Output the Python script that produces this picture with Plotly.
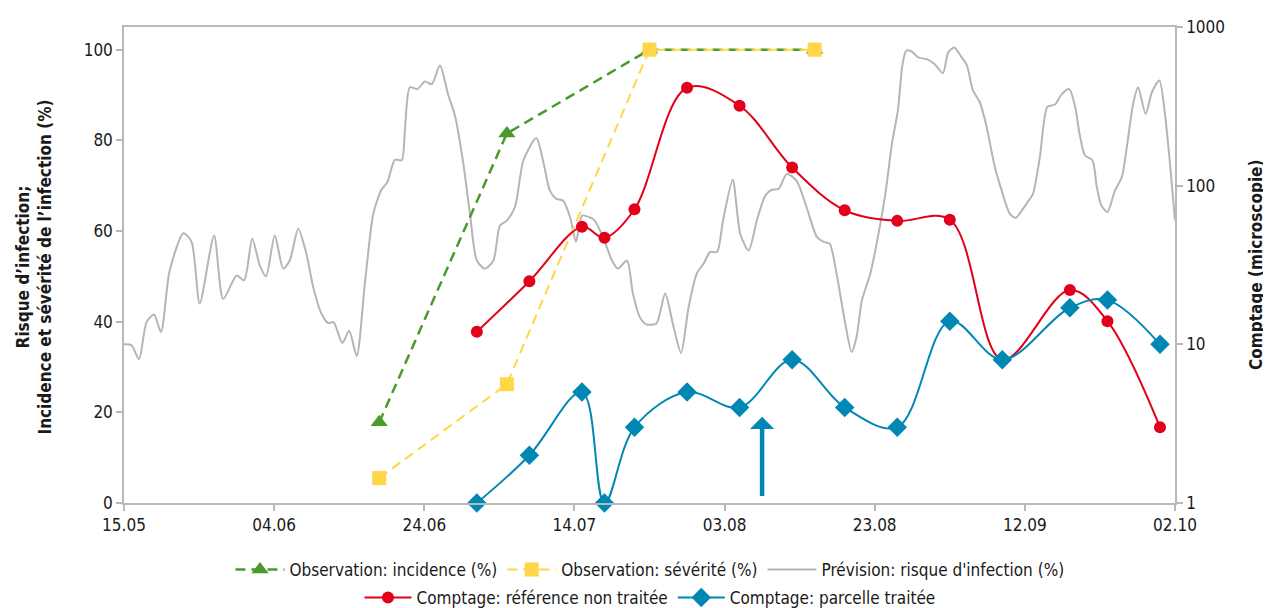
import plotly.graph_objects as go
import pandas as pd

# ---------------- data ----------------
season_start = "2021-05-15"
season_end = "2021-10-02"

obs_dates = ["2021-06-18", "2021-07-05", "2021-07-24", "2021-08-15"]
incidence_pct = [17.8, 81.5, 100, 100]
severite_pct = [5.5, 26.2, 100, 100]

count_dates = ["2021-07-01", "2021-07-08", "2021-07-15", "2021-07-18", "2021-07-22",
               "2021-07-29", "2021-08-05", "2021-08-12", "2021-08-19", "2021-08-26",
               "2021-09-02", "2021-09-09", "2021-09-18", "2021-09-23", "2021-09-30"]
ref_counts = [12, 25, 55, 47, 71, 414, 319, 130, 70, 60, 61, 8, 22, 14, 3]
treated_counts = [1, 2, 5, 1, 3, 5, 4, 8, 4, 3, 14, 8, 17, 19, 10]

# forecast infection risk: days after 15.05 and value (%)
risk_days = [0.0, 1.0, 2.0, 3.0, 4.0, 4.9, 6.1, 7.9, 9.0, 10.1, 12.0, 13.2, 15.0, 16.0,
             17.1, 18.1, 18.9, 20.1, 21.2, 22.1, 23.2, 24.3, 25.2, 26.3, 27.2, 27.9,
             29.1, 30.0, 31.0, 32.1, 33.2, 34.3, 35.1, 36.1, 37.0, 37.4, 38.1, 39.1,
             40.1, 41.0, 42.1, 43.2, 44.1, 45.2, 46.1, 47.0, 48.1, 49.2, 50.1, 51.0,
             52.1, 53.2, 54.9, 55.9, 56.7, 57.6, 58.5, 59.4, 60.2, 61.0, 61.9, 62.7,
             63.8, 65.0, 65.8, 67.0, 67.8, 68.7, 69.6, 70.9, 72.1, 73.2, 74.2, 75.2,
             76.3, 77.2, 78.1, 79.0, 79.8, 81.1, 82.1, 83.2, 84.3, 85.4, 86.3, 87.2,
             88.3, 89.6, 90.9, 92.3, 93.2, 94.0, 94.9, 96.0, 96.9, 97.6, 98.3, 99.4,
             100.5, 101.4, 102.3, 103.1, 103.7, 104.2, 104.9, 105.8, 106.9, 108.0,
             109.1, 109.8, 110.6, 111.6, 112.3, 113.1, 114.0, 114.9, 116.0, 116.9,
             118.0, 118.8, 119.6, 120.5, 121.1, 122.0, 123.0, 124.0, 124.9, 125.9,
             126.7, 127.3, 128.0, 129.0, 129.6, 130.2, 131.0, 132.0, 132.9, 133.6,
             134.4, 135.1, 136.1, 136.9, 137.9, 138.7, 139.4, 140.0]
risk_pct = [35.0, 34.8, 31.7, 39.9, 41.6, 37.7, 51.3, 59.5, 57.6, 44.0, 59.0, 45.0, 50.2, 49.1,
            58.3, 52.4, 50.0, 59.0, 51.7, 53.5, 60.5, 55.0, 47.6, 41.8, 39.7, 39.9,
            35.3, 38.0, 32.4, 48.4, 63.8, 69.1, 70.8, 75.7, 75.6, 82.2, 91.7, 91.3,
            93.0, 92.4, 96.5, 89.9, 85.5, 74.8, 63.8, 53.5, 51.7, 53.5, 61.2, 62.3,
            65.3, 75.6, 80.5, 74.8, 69.0, 67.1, 66.7, 63.1, 57.6, 63.4, 63.1, 62.3,
            58.7, 53.5, 51.7, 53.5, 46.2, 41.0, 39.4, 39.6, 46.2, 38.8, 33.1, 43.2,
            50.6, 52.8, 55.4, 55.4, 62.3, 71.3, 59.4, 55.7, 62.3, 67.8, 69.1, 69.3,
            72.6, 71.1, 65.3, 58.7, 57.6, 57.2, 50.6, 40.3, 33.3, 36.6, 44.7, 50.6,
            59.4, 68.2, 79.2, 86.6, 96.8, 99.8, 99.6, 98.3, 97.9, 96.8,
            94.8, 99.4, 100.5, 98.3, 96.5, 91.0, 88.4, 82.9, 74.1, 68.9,
            63.8, 62.9, 64.5, 66.7, 68.2, 76.3, 87.4, 87.9, 90.2, 91.3,
            87.3, 81.4, 76.7, 75.6, 69.7, 65.6, 64.2, 68.9, 71.9, 78.5,
            88.0, 91.7, 85.8, 90.6, 93.2, 85.1, 73.3, 62.3]

treatment_date = "2021-08-08"
treatment_arrow_top = 19
treatment_arrow_bottom = 1.2

left_title = "Risque d’infection;<br>Incidence et sévérité de l’infection (%)"
right_title = "Comptage (microscopie)"

# ---------------- styles ----------------
GREEN = "#4a9a2b"
YELLOW = "#ffd646"
GREY = "#b5b5b5"
RED = "#e2001a"
BLUE = "#0087b4"
AXIS = "#b9b9b9"
TXT = "#1a1a1a"
FONT = "Liberation Sans Narrow, DejaVu Sans Condensed, Arial Narrow, sans-serif"

base = pd.Timestamp(season_start)
risk_dates = [base + pd.Timedelta(hours=round(d * 24)) for d in risk_days]

fig = go.Figure()

fig.add_trace(go.Scatter(
    x=risk_dates, y=risk_pct, mode="lines", name="Prévision: risque d'infection (%)",
    line=dict(color=GREY, width=2, shape="spline", smoothing=0.7),
    legend="legend", legendrank=3, yaxis="y"))

fig.add_trace(go.Scatter(
    x=obs_dates, y=incidence_pct, mode="lines+markers", name="Observation: incidence (%)",
    line=dict(color=GREEN, width=2.5, dash="10px,6px"),
    marker=dict(symbol="triangle-up", size=15, color=GREEN),
    legend="legend", legendrank=1, yaxis="y", cliponaxis=False))

fig.add_trace(go.Scatter(
    x=obs_dates, y=severite_pct, mode="lines+markers", name="Observation: sévérité (%)",
    line=dict(color=YELLOW, width=2, dash="10px,6px"),
    marker=dict(symbol="square", size=14, color=YELLOW),
    legend="legend", legendrank=2, yaxis="y", cliponaxis=False))

fig.add_trace(go.Scatter(
    x=count_dates, y=ref_counts, mode="lines+markers", name="Comptage: référence non traitée",
    line=dict(color=RED, width=2, shape="spline", smoothing=1),
    marker=dict(symbol="circle", size=12, color=RED),
    legend="legend2", yaxis="y2", cliponaxis=False))

fig.add_trace(go.Scatter(
    x=count_dates, y=treated_counts, mode="lines+markers", name="Comptage: parcelle traitée",
    line=dict(color=BLUE, width=2, shape="spline", smoothing=1),
    marker=dict(symbol="diamond", size=15, color=BLUE),
    legend="legend2", yaxis="y2", cliponaxis=False))

fig.add_annotation(
    x=treatment_date, y=treatment_arrow_top, ax=treatment_date, ay=treatment_arrow_bottom,
    xref="x", yref="y", axref="x", ayref="y", text="", showarrow=True,
    arrowhead=1, arrowsize=0.9, arrowwidth=4.5, arrowcolor=BLUE)

fig.add_annotation(
    text="<b>" + left_title + "</b>", textangle=-90, xref="paper", yref="paper",
    x=-0.0855, y=0.495, xanchor="center", yanchor="middle", showarrow=False,
    font=dict(family=FONT, size=17, color=TXT))

fig.add_annotation(
    text="<b>" + right_title + "</b>", textangle=-90, xref="paper", yref="paper",
    x=1.077, y=0.5, xanchor="center", yanchor="middle", showarrow=False,
    font=dict(family=FONT, size=17, color=TXT))

tick_font = dict(family=FONT, size=17, color=TXT)
axis_common = dict(ticks="outside", ticklen=6, tickcolor=AXIS, tickwidth=1.5,
                   showline=True, linecolor=AXIS, linewidth=1.5,
                   showgrid=False, zeroline=False, tickfont=tick_font, automargin=False)

# the page body adds an 8px offset, so the figure is sized to fit the window
fig.update_layout(
    width=1263, height=600,
    margin=dict(l=116, r=96, t=19, b=105, autoexpand=False),
    paper_bgcolor="white", plot_bgcolor="white",
    font=dict(family=FONT, size=17, color=TXT),
    xaxis=dict(type="date", range=[season_start, season_end],
               tick0=season_start, dtick=20 * 86400000, tickformat="%d.%m",
               mirror=True, **axis_common),
    yaxis=dict(range=[0, 105], tickvals=[0, 20, 40, 60, 80, 100], **axis_common),
    yaxis2=dict(type="log", range=[0, 3], overlaying="y", side="right",
                tickvals=[1, 10, 100, 1000], ticktext=["1", "10", "100", "1000"],
                **axis_common),
    legend=dict(orientation="h", xref="container", yref="container",
                x=0.5083, xanchor="center", y=0.0633, yanchor="middle",
                font=dict(family=FONT, size=17), itemwidth=49, bgcolor="rgba(0,0,0,0)"),
    legend2=dict(orientation="h", xref="container", yref="container",
                 x=0.5083, xanchor="center", y=0.0167, yanchor="middle",
                 font=dict(family=FONT, size=17), itemwidth=47, bgcolor="rgba(0,0,0,0)"),
    showlegend=True,
)

fig.write_html("out.html")
